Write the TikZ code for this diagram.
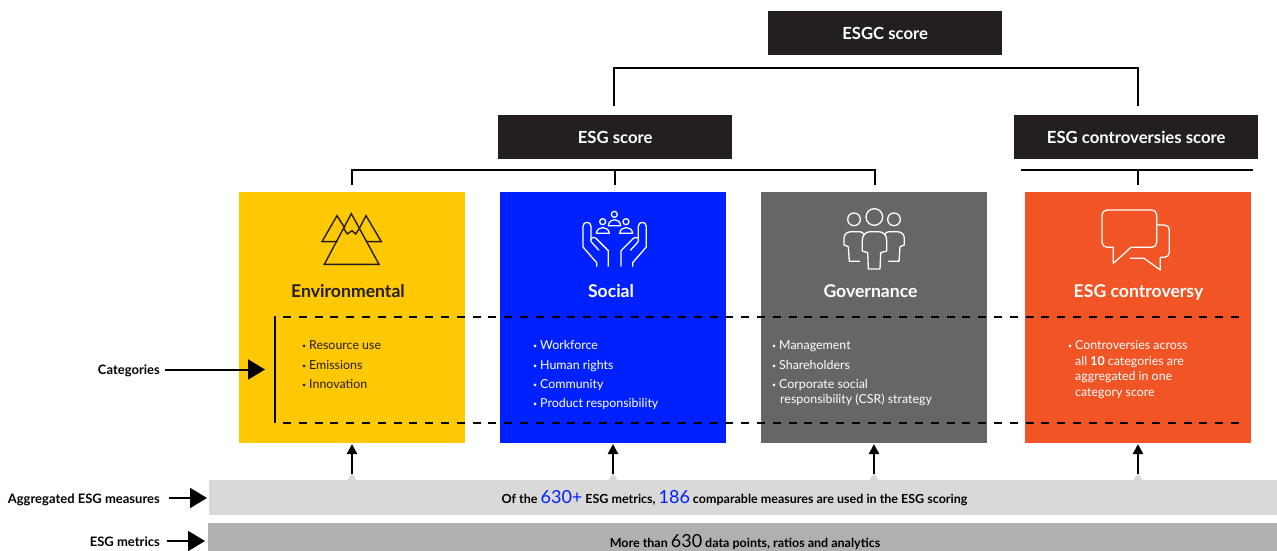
\documentclass[tikz,border=0pt]{standalone}
\usepackage{fontspec}
\setmainfont{Lato}
\usetikzlibrary{arrows.meta,calc}
\definecolor{ink}{HTML}{231F20}
\definecolor{envc}{HTML}{FFC805}
\definecolor{socc}{HTML}{0021FF}
\definecolor{govc}{HTML}{666666}
\definecolor{conc}{HTML}{F15425}
\definecolor{barl}{HTML}{D9D9D8}
\definecolor{bard}{HTML}{B0B0B0}
\tikzset{
 x=1pt,y=-1pt,
 scorebox/.style={fill=ink,text=white,font=\bfseries\fontsize{16.7}{18}\selectfont,minimum width=#1,minimum height=44pt,inner sep=0pt,anchor=north west},
 catbox/.style={fill=#1,minimum width=226pt,minimum height=251pt,inner sep=0pt,anchor=north west},
 bar/.style={fill=#1,inner sep=0pt,anchor=north west},
 cattitle/.style={font=\bfseries\fontsize{17.6}{20}\selectfont,anchor=base},
 item/.style={font=\fontsize{12.4}{14}\selectfont,anchor=base west,inner sep=0pt},
 sidelabel/.style={font=\bfseries\fontsize{13}{15}\selectfont,text=black,anchor=base east,inner sep=0pt},
 barlabel/.style={font=\bfseries\fontsize{12.5}{15}\selectfont,text=black,anchor=base,inner sep=0pt},
 tree/.style={draw=black,line width=1.8pt},
 dashline/.style={draw=black,line width=1.6pt,dash pattern=on 8pt off 7.8pt},
 bigarrow/.style={draw=black,line width=2pt,-{Triangle[length=17pt,width=20pt]}},
 uparrow/.style={draw=black,line width=2.2pt,-{Triangle[length=10pt,width=10pt]}},
 icondark/.style={draw=ink,line width=1.4pt,line join=miter},
 iconwhite/.style={draw=white,line width=1.3pt,line join=round},
}
\newcommand{\bignum}[1]{{\fontsize{18}{18}\selectfont\mdseries #1}}
\newcommand{\blt}{\makebox[7pt][l]{\fontsize{7}{7}\selectfont\raisebox{0.8pt}{•}}}
\begin{document}
\begin{tikzpicture}
\useasboundingbox (0,0) rectangle (1277,551);
% score boxes
\node[scorebox=234pt] (esgc) at (768,11) {ESGC score};
\node[scorebox=234pt] (esg) at (498,115) {ESG score};
\node[scorebox=244pt] (cont) at (1014,115) {ESG controversies score};
% category boxes
\node[catbox=envc] (env) at (239,192) {};
\node[catbox=socc] (soc) at (500,192) {};
\node[catbox=govc] (gov) at (761,192) {};
\node[catbox=conc] (con) at (1025,192) {};
% bars
\node[bar=barl,minimum width=1068pt,minimum height=35pt] (bar1) at (209,480) {};
\node[bar=bard,minimum width=1069pt,minimum height=28pt] (bar2) at (208,523) {};
% tree connectors
\coordinate (c1) at (614,106);
\coordinate (c2) at (1138,106);
\draw[tree] (c1) -- (614,68) -- (1138,68) -- (c2);
\coordinate (t1) at (352,185);
\coordinate (t3) at (875,185);
\coordinate (t2) at (615,185);
\coordinate (tj) at (615,170);
\draw[tree] (t1) -- (352,170) -- (875,170) -- (t3);
\draw[tree] (tj) -- (t2);
\coordinate (cl) at (1021,170);
\coordinate (cr) at (1253,170);
\coordinate (cj) at (1138,170);
\coordinate (cd) at (1138,185);
\draw[tree] (cl) -- (cr);
\draw[tree] (cj) -- (cd);
% titles
\node[cattitle,text=ink] (envt) at (348,297) {Environmental};
\node[cattitle,text=white] (soct) at (611,297) {Social};
\node[cattitle,text=white] (govt) at (870.5,297) {Governance};
\node[cattitle,text=white] (cont2) at (1138.5,297) {ESG controversy};
% items
\begin{scope}[every node/.append style={item}]
\node[text=ink] (e1) at (302,349) {\blt Resource use};
\node[text=ink] (e2) at (302,369) {\blt Emissions};
\node[text=ink] (e3) at (302,388) {\blt Innovation};
\node[text=white] (s1) at (533,349) {\blt Workforce};
\node[text=white] (s2) at (533,369) {\blt Human rights};
\node[text=white] (s3) at (533,388) {\blt Community};
\node[text=white] (s4) at (533,407) {\blt Product responsibility};
\node[text=white] (g1) at (772,349) {\blt Management};
\node[text=white] (g2) at (772,369) {\blt Shareholders};
\node[text=white] (g3) at (772,388) {\blt Corporate social};
\node[text=white] (g4) at (780,403) {responsibility (CSR) strategy};
\node[text=white] (k1) at (1068,349) {\blt Controversies across};
\node[text=white] (k2) at (1075,365) {all \textbf{10} categories are};
\node[text=white] (k3) at (1075,380) {aggregated in one};
\node[text=white] (k4) at (1075,396) {category score};
\end{scope}
% dashed category band
\coordinate (d0) at (283,317);
\coordinate (d5) at (283,423);
\coordinate (d1) at (275,316);
\coordinate (d2) at (275,423);
\coordinate (d3) at (1242,317);
\coordinate (d4) at (1242,423);
\draw[dashline] (d0) -- (d3);
\draw[dashline] (d5) -- (d4);
\draw[draw=black,line width=1.7pt] (d1) -- (d2);
% side labels
\node[sidelabel] (lc) at (160,374) {Categories};
\node[sidelabel] (la) at (160,503) {Aggregated ESG measures};
\node[sidelabel] (lm) at (160,546) {ESG metrics};
\coordinate (a1) at (265,369.5);
\coordinate (a2) at (207,498);
\coordinate (a3) at (205,541);
\draw[bigarrow] (165,369.5) -- (a1);
\draw[bigarrow] (169,498) -- (a2);
\draw[bigarrow] (167,541) -- (a3);
% up arrows with small light tips
\foreach \n/\xx in {u1/352,u2/613,u3/874,u4/1138}{
  \fill[barl] (\xx-5,481) -- (\xx,473) -- (\xx+5,481) -- cycle;
  \coordinate (\n) at (\xx,474);
  \draw[uparrow] (\n) -- (\xx,444);
}
% bar labels
\node[barlabel] (b1) at (734.5,503) {Of the \textcolor{socc}{\bignum{630+}} ESG metrics, \textcolor{socc}{\bignum{186}} comparable measures are used in the ESG scoring};
\node[barlabel] (b2) at (745,547) {More than \bignum{630} data points, ratios and analytics};
% Environmental icon (zoom coordinates)
\begin{scope}[shift={(230,185)},x=1pt/3,y=-1pt/3]
\draw[icondark] (364,86) -- (447,238) -- (283,238) -- cycle;
\draw[icondark] (345,130) -- (321,92) -- (276,170) -- (322,170);
\draw[icondark] (388,130) -- (408,92) -- (454,170) -- (408,170);
\draw[icondark] (341,131) -- (352,147) -- (366,137) -- (377,147) -- (388,131);
% Social icon
\begin{scope}[iconwhite]
\draw (1153,88) circle[radius=9];
\draw (1118,110) circle[radius=9];
\draw (1188,110) circle[radius=9];
\draw (1135,122) .. controls (1137,98) and (1170,98) .. (1172,122) -- cycle;
\draw (1099,145) .. controls (1101,122) and (1136,122) .. (1138,145) -- cycle;
\draw (1169,145) .. controls (1171,122) and (1206,122) .. (1208,145) -- cycle;
\foreach \sg/\off in {1/0,-1/2308}{
 \begin{scope}[shift={(\off,0)},xscale=\sg]
 \draw (1100,245) -- (1100,233) -- (1059,186) -- (1059,124) .. controls (1059,108) and (1083,108) .. (1083,124) -- (1083,160);
 \draw (1135,245) -- (1135,197) -- (1098,160) .. controls (1090,152) and (1076,162) .. (1085,172) -- (1107,196);
 \end{scope}
}
\end{scope}
\end{scope}
% Governance and controversy icons
\begin{scope}[shift={(750,185)},x=1pt/3,y=-1pt/3]
\begin{scope}[iconwhite]
\draw (373,96) circle[radius=25];
\draw (312,103) circle[radius=19];
\draw (432,103) circle[radius=19];
\draw (355,252) -- (390,252) -- (392,203) -- (410,198) -- (410,165) .. controls (410,150) and (400,140) .. (385,140) -- (362,140) .. controls (347,140) and (337,150) .. (337,165) -- (337,198) -- (353,203) -- cycle;
\draw (330,229) -- (298,229) -- (295,185) -- (282,180) -- (282,160) .. controls (282,147) and (292,140) .. (305,140) -- (328,140) .. controls (334,140) and (339,143) .. (342,148);
\draw (415,229) -- (447,229) -- (450,185) -- (463,180) -- (463,160) .. controls (463,147) and (453,140) .. (440,140) -- (418,140) .. controls (412,140) and (407,143) .. (404,148);
\draw (1072,75) -- (1205,75) .. controls (1214,75) and (1220,81) .. (1220,90) -- (1220,172) .. controls (1220,181) and (1214,187) .. (1205,187) -- (1143,187) -- (1090,235) -- (1090,187) -- (1072,187) .. controls (1063,187) and (1056,181) .. (1056,172) -- (1056,90) .. controls (1056,81) and (1063,75) .. (1072,75) -- cycle;
\draw (1220,120) -- (1243,120) .. controls (1252,120) and (1258,126) .. (1258,135) -- (1258,202) .. controls (1258,211) and (1252,217) .. (1243,217) -- (1231,217) -- (1231,255) -- (1182,220) -- (1140,220);
\end{scope}
\end{scope}
\end{tikzpicture}
\end{document}
